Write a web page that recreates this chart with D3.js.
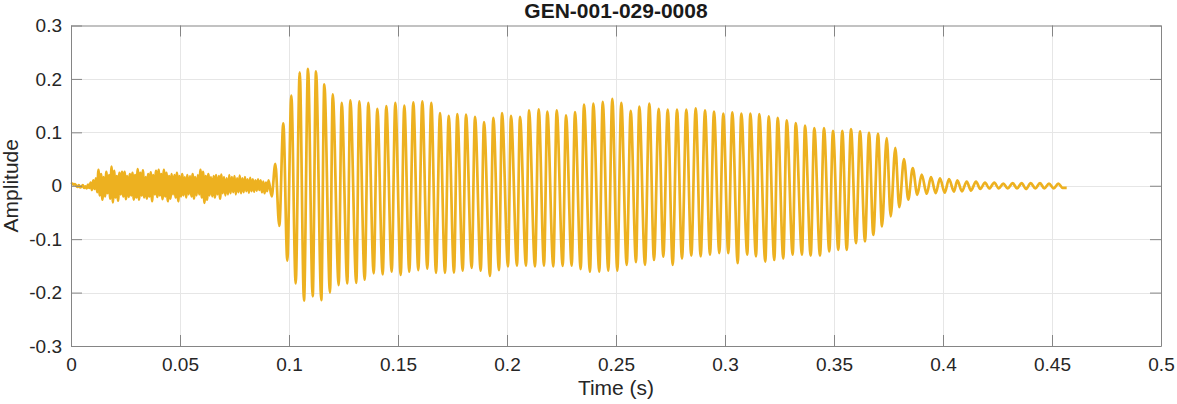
<!DOCTYPE html>
<html><head><meta charset="utf-8">
<script src="https://cdn.jsdelivr.net/npm/d3@7"></script>
<style>html,body{margin:0;padding:0;background:#fff;}svg{display:block;}</style>
</head><body>
<svg id="chart" width="1177" height="404"></svg>
<script>
const title = "GEN-001-029-0008";
const xTicks = [0,0.05,0.1,0.15,0.2,0.25,0.3,0.35,0.4,0.45,0.5];
const xTickLabels = ["0","0.05","0.1","0.15","0.2","0.25","0.3","0.35","0.4","0.45","0.5"];
const yTicks = [-0.3,-0.2,-0.1,0,0.1,0.2,0.3];
const yTickLabels = ["-0.3","-0.2","-0.1","0","0.1","0.2","0.3"];

// background noise before the tone onset (sample step in seconds)
const noiseStep = 0.0006;
const noiseVals = [0.003,0.004,0.002,0.003,0.000,-0.002,0.001,-0.003,-0.002,0.001,-0.004,-0.001,-0.005,0.002,-0.004,
0.006,-0.008,0.010,-0.006,0.014,-0.012,
0.030,-0.018,0.022,-0.026,0.016,-0.020,0.026,-0.014,0.020,-0.024,
0.036,-0.031,0.028,-0.022,0.018,-0.028,0.024,-0.016,0.026,-0.020,
0.026,-0.025,0.018,-0.021,0.022,-0.018,0.024,-0.026,0.020,-0.022,
0.031,-0.026,0.024,-0.018,0.029,-0.022,0.016,-0.024,0.022,-0.020,
0.025,-0.029,0.020,-0.016,0.028,-0.021,0.030,-0.018,0.022,-0.025,
0.030,-0.020,0.024,-0.029,0.018,-0.024,0.022,-0.016,0.020,-0.022,
0.024,-0.029,0.018,-0.020,0.022,-0.018,0.016,-0.022,0.020,-0.016,
0.018,-0.020,0.022,-0.024,0.016,-0.018,0.020,-0.016,0.030,-0.022,
0.026,-0.032,0.018,-0.026,0.022,-0.018,0.016,-0.020,0.018,-0.022,
0.020,-0.016,0.018,-0.024,0.021,-0.014,0.016,-0.018,0.014,-0.016,
0.020,-0.014,0.016,-0.012,0.018,-0.016,0.014,-0.012,0.019,-0.014,
0.014,-0.012,0.016,-0.010,0.012,-0.013,0.015,-0.010,0.012,-0.011,
0.010,-0.009,0.012,-0.008,0.010,-0.012,0.008,-0.014,0.006,-0.010,0.010];

// positive peaks of each cycle
const peakTimes = [0.09372,0.09739,0.10106,0.10491,0.10872,0.11239,0.11619,0.12005,0.12417,0.12812,
0.13225,0.13638,0.14050,0.14463,0.14876,0.15289,0.15702,0.16115,0.16528,0.16927,
0.17326,0.17720,0.18119,0.18532,0.18945,0.19372,0.19771,0.20183,0.20596,0.21009,
0.21454,0.21849,0.22280,0.22706,0.23119,0.23532,0.23959,0.24390,0.24830,0.25243,
0.25674,0.26069,0.26528,0.26959,0.27372,0.27798,0.28225,0.28656,0.29083,0.29495,
0.29922,0.30335,0.30748,0.31161,0.31573,0.32005,0.32417,0.32830,0.33243,0.33670,
0.34096,0.34541,0.34954,0.35381,0.35780,0.36193,0.36606,0.37018,0.37417,0.37812,
0.38211,0.38610,0.39023,0.39450,0.39862,0.40275,0.40656,0.41087,0.41514,0.41927,
0.42353,0.42766,0.43197,0.43610,0.44023,0.44450,0.44862,0.45289];
const peakVals = [0.041,0.117,0.169,0.2125,0.219,0.214,0.19,0.171,0.155,0.16,
0.158,0.155,0.144,0.149,0.155,0.15,0.156,0.158,0.155,0.136,
0.131,0.134,0.133,0.129,0.119,0.127,0.136,0.131,0.129,0.141,
0.143,0.139,0.141,0.132,0.138,0.152,0.154,0.157,0.1625,0.155,
0.140,0.148,0.154,0.144,0.1425,0.1425,0.1425,0.145,0.141,0.139,
0.135,0.1375,0.135,0.135,0.134,0.13,0.127,0.1225,0.1175,0.1125,
0.108,0.108,0.103,0.103,0.106,0.102,0.099,0.097,0.089,0.071,
0.05,0.033,0.021,0.016,0.014,0.0125,0.010,0.008,0.008,0.006,
0.006,0.004,0.005,0.005,0.005,0.005,0.004,0.004];

// negative troughs of each cycle
const troughTimes = [0.09206,0.09555,0.09922,0.10307,0.10688,0.11087,0.11482,0.11881,0.12280,0.12674,
0.13087,0.13472,0.13885,0.14298,0.14711,0.15124,0.15518,0.15931,0.16344,0.16743,
0.17156,0.17569,0.17968,0.18381,0.18794,0.19220,0.19633,0.20046,0.20459,0.20872,
0.21284,0.21697,0.22124,0.22555,0.22968,0.23381,0.23807,0.24234,0.24647,0.25060,
0.25491,0.25917,0.26330,0.26743,0.27170,0.27601,0.28028,0.28454,0.28885,0.29312,
0.29739,0.30151,0.30583,0.31023,0.31422,0.31849,0.32261,0.32674,0.33106,0.33532,
0.33931,0.34358,0.34784,0.35197,0.35583,0.36009,0.36422,0.36803,0.37202,0.37601,
0.37995,0.38408,0.38821,0.39252,0.39665,0.40078,0.40505,0.40872,0.41284,0.41711,
0.42124,0.42555,0.42968,0.43394,0.43807,0.44234,0.44647,0.45078,0.45491];
const troughVals = [-0.02,-0.075,-0.14,-0.183,-0.215,-0.207,-0.214,-0.2,-0.186,-0.183,
-0.182,-0.176,-0.164,-0.166,-0.161,-0.167,-0.161,-0.158,-0.155,-0.163,
-0.163,-0.1625,-0.159,-0.154,-0.159,-0.169,-0.158,-0.151,-0.1495,-0.1495,
-0.151,-0.1495,-0.151,-0.15,-0.1495,-0.156,-0.161,-0.161,-0.159,-0.159,
-0.148,-0.143,-0.148,-0.139,-0.1325,-0.148,-0.136,-0.131,-0.132,-0.129,
-0.126,-0.126,-0.145,-0.129,-0.132,-0.142,-0.139,-0.136,-0.129,-0.129,
-0.131,-0.131,-0.123,-0.12,-0.12,-0.1075,-0.104,-0.092,-0.076,-0.0575,
-0.04,-0.026,-0.017,-0.015,-0.0137,-0.013,-0.011,-0.0106,-0.009,-0.006,
-0.005,-0.005,-0.005,-0.005,-0.006,-0.005,-0.005,-0.005,-0.004];
const endTime = 0.45674, endVal = -0.004;

// ---- build the series ----
const pts = [];
noiseVals.forEach((v,i)=>pts.push([i*noiseStep, v]));
peakTimes.forEach((t,i)=>pts.push([t, peakVals[i]]));
troughTimes.forEach((t,i)=>pts.push([t, troughVals[i]]));
pts.push([endTime, endVal]);
pts.sort((a,b)=>a[0]-b[0]);

const svg = d3.select("#chart");
const L = 71, R = 1161, T = 25.5, B = 346;
const x = d3.scaleLinear().domain([0,0.5]).range([L,R]);
const y = d3.scaleLinear().domain([-0.3,0.3]).range([B,T]);
const font = "'Liberation Sans', Arial, Helvetica, sans-serif";
const axisCol = "#858585", textCol = "#262626", gridCol = "#e6e6e6";

// grid
const g = svg.append("g");
g.selectAll(".gx").data(xTicks.slice(1,-1)).enter().append("line")
 .attr("x1",d=>Math.round(x(d))+0.5).attr("x2",d=>Math.round(x(d))+0.5).attr("y1",T).attr("y2",B)
 .attr("stroke",gridCol).attr("stroke-width",1);
g.selectAll(".gy").data(yTicks.slice(1,-1)).enter().append("line")
 .attr("y1",d=>Math.round(y(d))+0.5).attr("y2",d=>Math.round(y(d))+0.5).attr("x1",L).attr("x2",R)
 .attr("stroke",gridCol).attr("stroke-width",1);

// waveform
const line = d3.line().x(d=>x(d[0])).y(d=>y(d[1])).curve(d3.curveMonotoneX);
svg.append("path").datum(pts).attr("d",line)
 .attr("fill","none").attr("stroke","#EDB120").attr("stroke-width",2.7).attr("stroke-linejoin","round");

// axes (MATLAB box style, ticks inside on all sides)
const tl = 11;
const ax = svg.append("g");
const xb = d3.axisBottom(x).tickValues(xTicks).tickFormat((d,i)=>xTickLabels[i]).tickSizeInner(-tl).tickSizeOuter(0).tickPadding(12);
const xt = d3.axisTop(x).tickValues(xTicks).tickFormat("").tickSizeInner(-tl).tickSizeOuter(0);
const yl = d3.axisLeft(y).tickValues(yTicks).tickFormat((d,i)=>yTickLabels[i]).tickSizeInner(-tl).tickSizeOuter(0).tickPadding(9);
const yr = d3.axisRight(y).tickValues(yTicks).tickFormat("").tickSizeInner(-tl).tickSizeOuter(0);
ax.append("g").attr("transform",`translate(0,${B})`).call(xb);
ax.append("g").attr("transform",`translate(0,${T})`).call(xt);
ax.append("g").attr("transform",`translate(${L},0)`).call(yl);
ax.append("g").attr("transform",`translate(${R},0)`).call(yr);
ax.selectAll(".domain").attr("stroke",axisCol).attr("stroke-width",1);
ax.selectAll(".tick line").attr("stroke",axisCol).attr("stroke-width",1);
ax.selectAll(".tick text").attr("fill",textCol).style("font-family",font).style("font-size","19px");

// labels
svg.append("text").attr("x",(L+R)/2).attr("y",17.5).attr("text-anchor","middle")
 .style("font-family",font).style("font-size","21px").style("font-weight","bold").attr("fill","#1a1a1a").text(title);
svg.append("text").attr("x",(L+R)/2).attr("y",395).attr("text-anchor","middle")
 .style("font-family",font).style("font-size","21px").attr("fill",textCol).text("Time (s)");
svg.append("text").attr("transform",`translate(18,${(T+B)/2}) rotate(-90)`).attr("text-anchor","middle")
 .style("font-family",font).style("font-size","21px").attr("fill",textCol).text("Amplitude");
</script>
</body></html>
